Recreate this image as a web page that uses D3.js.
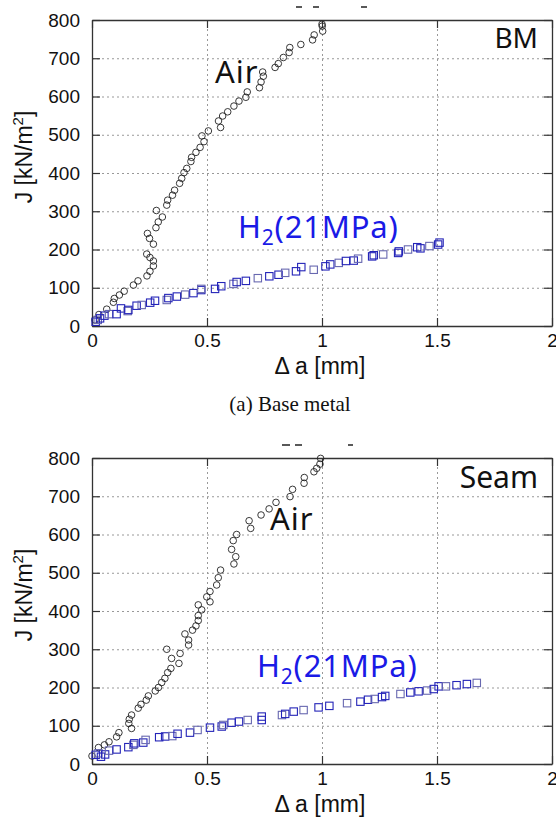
<!DOCTYPE html>
<html>
<head>
  <meta charset='utf-8'>
  <script src="https://cdn.jsdelivr.net/npm/d3@7"></script>
  <style>
    body { margin: 0; background: #fff; }
  </style>
</head>
<body>
<script>
  // tick values
  let xTicks = [0, 0.5, 1, 1.5, 2]
  let yTicks = [0, 100, 200, 300, 400, 500, 600, 700, 800]
  let xTickLabels = ["0", "0.5", "1", "1.5", "2"]

  // (a) base metal, air
  let bmAirX = [0.013, 0.03, 0.064, 0.093, 0.097, 0.119, 0.14, 0.18, 0.2, 0.239, 0.252, 0.267, 0.267, 0.252, 0.238, 0.267, 0.25, 0.241, 0.278, 0.288, 0.306, 0.28, 0.325, 0.329, 0.35, 0.359, 0.381, 0.39, 0.4, 0.412, 0.43, 0.433, 0.452, 0.47, 0.487, 0.478, 0.506, 0.559, 0.55, 0.568, 0.59, 0.617, 0.639, 0.669, 0.675, 0.728, 0.735, 0.745, 0.742, 0.796, 0.81, 0.832, 0.857, 0.86, 0.908, 0.959, 0.966, 1.003, 1.001, 1.0]
  let bmAirJ = [16, 30, 44, 62, 72, 81, 91, 107, 118, 131, 143, 157, 170, 179, 188, 214, 229, 242, 257, 272, 285, 302, 316, 329, 342, 355, 373, 386, 401, 412, 430, 441, 454, 467, 482, 497, 510, 519, 536, 549, 560, 575, 588, 598, 612, 623, 638, 653, 664, 676, 686, 702, 715, 728, 736, 748, 761, 771, 784, 789]
  // (a) base metal, H2 21MPa
  let bmH2X = [0.016, 0.025, 0.035, 0.054, 0.074, 0.107, 0.126, 0.155, 0.158, 0.194, 0.216, 0.253, 0.274, 0.325, 0.332, 0.369, 0.405, 0.441, 0.475, 0.475, 0.535, 0.562, 0.615, 0.629, 0.669, 0.721, 0.771, 0.811, 0.84, 0.887, 0.91, 0.964, 1.015, 1.036, 1.073, 1.104, 1.138, 1.157, 1.218, 1.225, 1.266, 1.331, 1.334, 1.374, 1.414, 1.428, 1.467, 1.505, 1.511]
  let bmH2J = [11, 16, 20, 27, 31, 31, 46, 39, 42, 53, 55, 61, 66, 68, 73, 77, 82, 86, 94, 97, 97, 104, 110, 115, 118, 125, 130, 134, 139, 143, 154, 147, 156, 161, 165, 170, 171, 176, 182, 185, 187, 191, 195, 200, 206, 203, 209, 213, 218]

  // seam, air
  let seamAirX = [0.0, 0.028, 0.054, 0.074, 0.107, 0.117, 0.172, 0.16, 0.162, 0.172, 0.201, 0.213, 0.236, 0.245, 0.275, 0.289, 0.303, 0.317, 0.329, 0.343, 0.346, 0.325, 0.378, 0.383, 0.42, 0.42, 0.404, 0.437, 0.452, 0.462, 0.462, 0.462, 0.477, 0.513, 0.499, 0.513, 0.542, 0.549, 0.559, 0.617, 0.625, 0.607, 0.614, 0.629, 0.69, 0.683, 0.735, 0.77, 0.8, 0.861, 0.872, 0.922, 0.923, 0.965, 0.977, 0.991, 0.994]
  let seamAirJ = [21, 43, 50, 58, 71, 82, 93, 106, 117, 128, 146, 156, 167, 178, 191, 200, 213, 224, 239, 250, 276, 300, 263, 289, 311, 324, 340, 350, 361, 375, 388, 416, 403, 424, 437, 451, 468, 487, 507, 523, 542, 561, 584, 600, 616, 636, 651, 667, 684, 699, 718, 734, 749, 764, 773, 784, 799]
  // seam, H2 21MPa
  let seamH2X = [0.016, 0.028, 0.039, 0.057, 0.074, 0.107, 0.158, 0.18, 0.184, 0.223, 0.233, 0.292, 0.318, 0.349, 0.372, 0.426, 0.459, 0.513, 0.564, 0.571, 0.607, 0.639, 0.677, 0.738, 0.738, 0.826, 0.84, 0.877, 0.92, 0.985, 1.032, 1.109, 1.167, 1.2, 1.229, 1.261, 1.275, 1.341, 1.384, 1.42, 1.457, 1.486, 1.507, 1.539, 1.585, 1.63, 1.673]
  let seamH2J = [24, 28, 19, 25, 35, 38, 44, 50, 54, 56, 63, 70, 72, 73, 79, 82, 89, 95, 98, 102, 108, 111, 115, 115, 124, 128, 131, 137, 141, 148, 152, 159, 163, 168, 170, 175, 178, 183, 187, 190, 192, 196, 203, 203, 206, 209, 212]

  let w = 556
  let h = 819
  let pLeft = 92
  let pRight = 552
  let sans = '"Liberation Sans", Arial, sans-serif'
  let jp = '"Noto Sans", sans-serif'

  let svg = d3.select('body')
    .append('svg')
    .attr('width', w)
    .attr('height', h)
    .attr('font-family', sans)

  function drawPanel(top, airX, airJ, h2X, h2J, tag, airPos, h2Pos, cuts) {
    let bottom = top + 306
    let xScale = d3.scaleLinear().domain([0, 2]).range([pLeft, pRight])
    let yScale = d3.scaleLinear().domain([0, 800]).range([bottom, top])
    let g = svg.append('g')

    // dotted grid
    g.append('g')
      .attr('transform', 'translate(0,' + bottom + ')')
      .call(d3.axisBottom(xScale).tickValues([0.5, 1, 1.5]).tickSize(-(bottom - top)).tickFormat(''))
      .call(s => s.select('.domain').remove())
      .selectAll('line').attr('stroke', '#999').attr('stroke-dasharray', '2,3')
    g.append('g')
      .attr('transform', 'translate(' + pLeft + ',0)')
      .call(d3.axisLeft(yScale).tickValues([100, 200, 300, 400, 500, 600, 700]).tickSize(-(pRight - pLeft)).tickFormat(''))
      .call(s => s.select('.domain').remove())
      .selectAll('line').attr('stroke', '#999').attr('stroke-dasharray', '2,3')

    // inward ticks on all four sides
    g.append('g').attr('transform', 'translate(0,' + bottom + ')')
      .call(d3.axisBottom(xScale).tickValues(xTicks).tickSizeInner(-8).tickSizeOuter(0).tickPadding(8)
        .tickFormat((d, i) => xTickLabels[i]))
    g.append('g').attr('transform', 'translate(0,' + top + ')')
      .call(d3.axisTop(xScale).tickValues(xTicks).tickSizeInner(-8).tickSizeOuter(0).tickFormat(''))
    g.append('g').attr('transform', 'translate(' + pLeft + ',0)')
      .call(d3.axisLeft(yScale).tickValues(yTicks).tickSizeInner(-8).tickSizeOuter(0).tickPadding(12))
    g.append('g').attr('transform', 'translate(' + pRight + ',0)')
      .call(d3.axisRight(yScale).tickValues(yTicks).tickSizeInner(-8).tickSizeOuter(0).tickFormat(''))
    g.selectAll('.domain').attr('stroke', '#333').attr('stroke-width', 1.3)
    g.selectAll('.tick line').filter(function () { return !this.getAttribute('stroke-dasharray') })
      .attr('stroke', '#333').attr('stroke-width', 1.2)
    g.selectAll('.tick text').attr('font-size', 19).attr('fill', '#111')
      .attr('font-family', sans)

    // air circles
    g.append('g').selectAll('circle')
      .data(d3.range(airX.length))
      .enter()
      .append('circle')
      .attr('cx', i => xScale(airX[i]))
      .attr('cy', i => yScale(airJ[i]))
      .attr('r', 3.3)
      .attr('fill', 'none')
      .attr('stroke', '#222')
      .attr('stroke-width', 0.9)

    // H2 squares
    g.append('g').selectAll('rect')
      .data(d3.range(h2X.length))
      .enter()
      .append('rect')
      .attr('x', i => xScale(h2X[i]) - 3.7)
      .attr('y', i => yScale(h2J[i]) - 3.7)
      .attr('width', 7.4)
      .attr('height', 7.4)
      .attr('fill', 'none')
      .attr('stroke', (d, i) => i % 3 == 1 ? '#6868b0' : '#2424b8')
      .attr('stroke-width', 1.1)

    // labels
    g.append('text').attr('x', airPos[0]).attr('y', airPos[1])
      .attr('font-family', jp).attr('font-size', 31).attr('letter-spacing', 1).attr('fill', '#111')
      .text('Air')
    g.append('text').attr('x', 538).attr('y', top + tag[1])
      .attr('text-anchor', 'end')
      .attr('font-family', jp).attr('font-size', tag[2]).attr('fill', '#111')
      .text(tag[0])
    let h2t = g.append('text').attr('x', h2Pos[0]).attr('y', h2Pos[1])
      .attr('font-family', jp).attr('font-size', 31).attr('letter-spacing', 0.8).attr('fill', '#1a1ae6')
    h2t.append('tspan').text('H')
    h2t.append('tspan').attr('font-size', 21).attr('dy', 7).text('2')
    h2t.append('tspan').attr('dy', -7).text('(21MPa)')

    // axis titles
    g.append('text')
      .attr('x', 320).attr('y', bottom + 48)
      .attr('text-anchor', 'middle').attr('font-size', 23).attr('fill', '#111')
      .text('\u0394 a [mm]')
    let yl = g.append('text')
      .attr('transform', 'translate(32,' + (top + 137) + ') rotate(-90)')
      .attr('text-anchor', 'middle').attr('font-size', 23).attr('fill', '#111')
    yl.append('tspan').text('J [kN/m')
    yl.append('tspan').attr('font-size', 15).attr('dy', -9).text('2')
    yl.append('tspan').attr('dy', 9).text(']')

    // clipped fragments of text above the frame
    g.selectAll('.cut')
      .data(cuts)
      .enter()
      .append('line')
      .attr('x1', d => d[0]).attr('x2', d => d[1])
      .attr('y1', top - 13).attr('y2', top - 13)
      .attr('stroke', '#222').attr('stroke-width', 1.5)
  }

  drawPanel(20, bmAirX, bmAirJ, bmH2X, bmH2J, ['BM', 28, 28], [215, 83], [238, 238],
    [[296, 302], [313, 319], [361, 367]])
  drawPanel(458, seamAirX, seamAirJ, seamH2X, seamH2J, ['Seam', 30, 30], [270, 530], [257, 677],
    [[282, 290], [295, 302], [348, 353]])

  svg.append('text')
    .attr('x', 290).attr('y', 411)
    .attr('text-anchor', 'middle')
    .attr('font-family', '"Liberation Serif", "Times New Roman", serif')
    .attr('font-size', 21).attr('fill', '#111')
    .text('(a) Base metal')
</script>
</body>
</html>
